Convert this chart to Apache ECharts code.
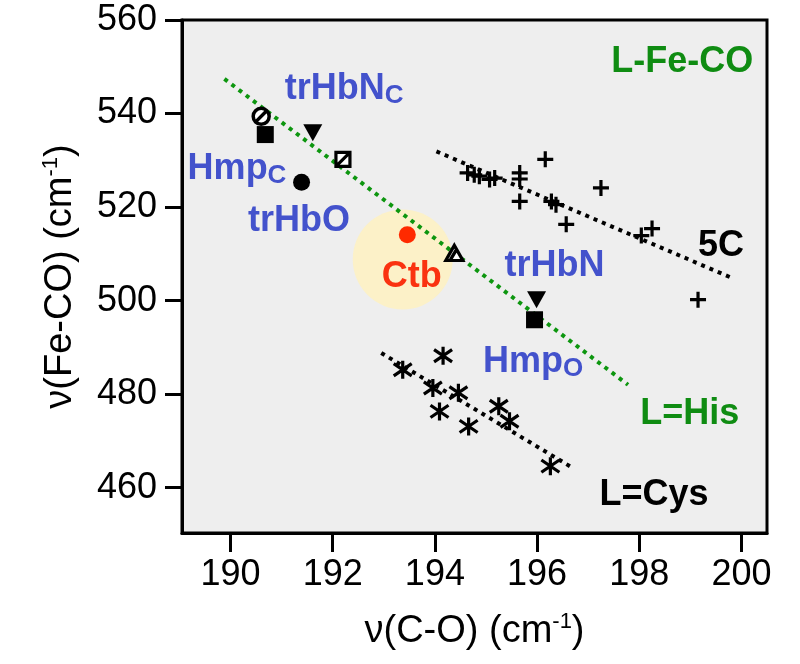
<!DOCTYPE html>
<html><head><meta charset="utf-8">
<script src="https://cdn.jsdelivr.net/npm/echarts@6/dist/echarts.min.js"></script>
<style>html,body{margin:0;padding:0;background:#fff}#c{width:800px;height:664px}</style>
</head><body><div id="c"></div>
<script>
// ---- data ----
const xTicks = [190, 192, 194, 196, 198, 200];
const yTicks = [460, 480, 500, 520, 540, 560];
// 5-coordinate (plus markers)
const fiveCoordPts = [[194.64,527.3],[194.77,526.9],[194.87,526.6],[195.07,525.9],[195.17,526.2],[195.66,527.3],[195.66,526.0],[196.16,530.2],[195.66,521.2],[197.25,524.1],[196.28,521.2],[196.37,520.5],[196.57,516.3],[198.04,513.9],[198.25,515.4],[199.15,500.2]];
// L=Cys (asterisk markers)
const cysPts = [[194.16,488.2],[193.37,485.2],[193.96,481.3],[194.46,480.3],[194.09,476.3],[194.66,473.1],[195.25,477.4],[195.46,474.2],[196.26,464.6]];
// individual proteins
const circleSlashPt = [[190.60,539.4]];
const filledSquarePts = [[190.68,535.5],[195.95,495.9]];
const downTrianglePts = [[191.61,535.9],[195.99,500.2]];
const squareSlashPt = [[192.20,530.2]];
const filledCirclePt = [[191.39,525.3]];
const triangleSlashPt = [[194.38,510.2]];
const ctbPt = [[193.46,514.1]];
const ctbHalo = [[193.37,508.8]];
// trend lines
const hisLine = [[189.88,547.4],[197.78,482.0]];
const fiveCLine = [[194.03,531.9],[199.80,504.9]];
const cysLine = [[192.95,488.8],[196.70,464.2]];
// annotations (left edge, vertical middle in data units)
const annotMain = ['L-Fe-CO','trHbN','Hmp','trHbO','Ctb','trHbN','Hmp','L=His','L=Cys','5C'];
const annotSub  = ['','C','C','','','','O','','',''];
const annotX = [197.45,191.06,189.16,190.34,192.96,195.36,194.94,198.02,197.22,199.15];
const annotY = [551.1,545.3,528.2,516.9,505.1,507.3,486.9,475.8,458.4,511.6];
const annotKind = ['green','blue','blue','blue','red','blue','blue','green','black','black'];

// ---- styles ----
const FONT = 'Liberation Sans, Arial, sans-serif';
const kindColor = {green:'#0f8c12', blue:'#4352cc', red:'#fa3210', black:'#000'};
const SYM = {
  plus: 'path://M5,0L5,10M0,5L10,5',
  asterisk: 'path://M5,0L5,10M0.9,1.6L9.1,8.4M9.1,1.6L0.9,8.4',
  circleSlash: 'path://M10,5A5,5,0,1,1,0,5A5,5,0,1,1,10,5ZM1.7,8.3L8.3,1.7',
  squareSlash: 'path://M0,0L10,0L10,10L0,10ZM0,10L10,0',
  triangleSlash: 'path://M5,0L10,9L0,9ZM2.8,8.5L6.3,2.5',
  downTri: 'path://M0,0L10,0L5,9Z'
};

function scatter(data, symbol, size, fill, stroke, bw, z) {
  return {type:'scatter', data, symbol, symbolSize:size, z:z||3, silent:true,
    itemStyle:{color:fill, borderColor:stroke, borderWidth:bw, opacity:1}};
}
function line(data, color) {
  return {type:'line', data, symbol:'none', z:2, silent:true,
    lineStyle:{color, width:4, type:[4,5], cap:'butt'}};
}

const annotData = annotMain.map((t,i)=>({
  value:[annotX[i], annotY[i]],
  label:{
    formatter: annotSub[i] ? '{m|'+t+'}{s|'+annotSub[i]+'}' : '{m|'+t+'}',
    color: kindColor[annotKind[i]]
  }
}));

const nameRich = {
  n:{fontSize:38, fontFamily:FONT, color:'#000', lineHeight:42},
  s:{fontSize:22, fontFamily:FONT, color:'#000', lineHeight:42, verticalAlign:'top', padding:[0,0,16,0]}
};

const option = {
  animation:false,
  backgroundColor:'#fff',
  grid:{left:182, right:33, top:20, bottom:131, show:true, backgroundColor:'#eeeeee', borderColor:'#000', borderWidth:3},
  xAxis:{type:'value', min:189.05, max:200.5,
    name:'{n|ν(C-O) (cm}{s|-1}{n|)}', nameLocation:'middle', nameGap:78,
    nameTextStyle:{rich:nameRich},
    axisLine:{show:true, lineStyle:{color:'#000', width:3}},
    axisTick:{show:true, length:19, inside:false, customValues:xTicks, lineStyle:{color:'#000', width:3}},
    axisLabel:{customValues:xTicks, fontSize:36, fontFamily:FONT, color:'#000', margin:24},
    splitLine:{show:false}},
  yAxis:{type:'value', min:450.3, max:560,
    name:'{n|ν(Fe-CO) (cm}{s|-1}{n|)}', nameLocation:'middle', nameGap:100, nameRotate:90,
    nameTextStyle:{rich:nameRich},
    axisLine:{show:true, lineStyle:{color:'#000', width:3}},
    axisTick:{show:true, length:17, inside:false, customValues:yTicks, lineStyle:{color:'#000', width:3}},
    axisLabel:{customValues:yTicks, fontSize:36, fontFamily:FONT, color:'#000', margin:25},
    splitLine:{show:false}},
  series:[
    {type:'scatter', data:ctbHalo, symbol:'circle', symbolSize:100, z:1, silent:true, itemStyle:{color:'#fcf1c8', opacity:1}},
    line(hisLine, '#0d960f'),
    line(fiveCLine, '#000'),
    line(cysLine, '#000'),
    scatter(fiveCoordPts, SYM.plus, 16, '#000', '#000', 3.2),
    scatter(cysPts, SYM.asterisk, 18, '#000', '#000', 3.2),
    scatter(circleSlashPt, SYM.circleSlash, 16, '#fff', '#000', 3.5),
    scatter(filledSquarePts, 'rect', 17, '#000', '#000', 0),
    scatter(downTrianglePts, SYM.downTri, [19,17], '#000', '#000', 0),
    scatter(squareSlashPt, SYM.squareSlash, 14, '#fff', '#000', 3.2),
    scatter(filledCirclePt, 'circle', 17, '#000', '#000', 0),
    scatter(triangleSlashPt, SYM.triangleSlash, [17,15], '#fff', '#000', 3.2),
    scatter(ctbPt, 'circle', 17, '#ff2a00', '#ff2a00', 0),
    {type:'scatter', data:annotData, symbolSize:0, z:5, silent:true, itemStyle:{opacity:1},
      label:{show:true, position:'right', distance:0,
        rich:{
          m:{fontSize:36, fontWeight:'bold', fontFamily:FONT, lineHeight:40},
          s:{fontSize:26, fontWeight:'bold', fontFamily:FONT, lineHeight:18, verticalAlign:'bottom'}
        }}}
  ]
};
echarts.init(document.getElementById('c'), null, {renderer:'canvas'}).setOption(option);
</script>
</body></html>
